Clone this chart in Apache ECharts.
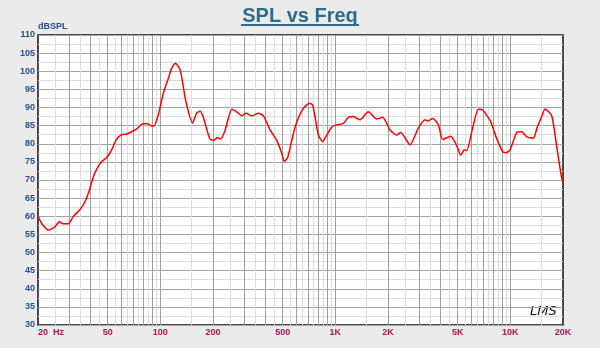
<!DOCTYPE html>
<html><head><meta charset="utf-8">
<script src="https://cdn.jsdelivr.net/npm/echarts@6/dist/echarts.min.js"></script>
<style>html,body{margin:0;padding:0;background:#ebebeb}#c{width:600px;height:348px}</style>
</head><body><div id="c"></div>
<script>
// Frequency (Hz) and SPL (dB)
const freqs = [20, 21, 22.9, 25, 26.5, 27.7, 29.8, 31.8, 34.8, 37.1, 39.3, 41.4, 43.3, 46.2, 49.4, 52.7, 55.8, 59.4, 64.3, 68.6, 73.3, 78.3, 83.6, 89.3, 92, 97.4, 104, 111, 116, 122, 130, 140, 153, 161, 169, 176, 192, 203, 212, 221, 234, 256, 273, 292, 309, 333, 363, 388, 424, 462, 494, 511, 535, 588, 650, 710, 743, 800, 847, 893, 954, 1019, 1111, 1186, 1267, 1384, 1543, 1724, 1865, 2053, 2243, 2365, 2672, 2980, 3255, 3373, 3603, 3878, 4108, 4563, 4938, 5205, 5458, 5634, 6146, 6563, 6954, 7725, 8282, 9046, 9448, 9961, 10877, 11614, 12409, 13537, 14268, 14974, 15787, 17240, 18408, 19661, 20000];
const spl = [60, 58.0, 56.2, 57.1, 58.5, 57.9, 57.9, 59.9, 61.9, 64.0, 67.2, 70.8, 73.0, 75.1, 76.2, 78.3, 81.0, 82.4, 82.7, 83.3, 84.1, 85.4, 85.6, 84.9, 84.9, 88.0, 93.9, 98.0, 100.8, 102.2, 100.3, 91.6, 85.7, 88.4, 89.0, 87.3, 81.3, 81.0, 81.7, 81.3, 83.6, 89.5, 88.8, 87.7, 88.4, 87.7, 88.4, 87.7, 83.8, 81.0, 77.4, 75.1, 76.3, 84.5, 89.5, 91.2, 90.6, 82.4, 80.6, 82.4, 84.6, 85.2, 85.6, 87.3, 87.5, 86.6, 88.8, 86.8, 87.3, 83.8, 82.4, 83.1, 79.7, 84.3, 86.6, 86.3, 87.0, 85.2, 81.2, 82.1, 79.5, 76.9, 78.3, 78.1, 85.2, 89.5, 89.3, 86.1, 81.9, 77.8, 77.5, 78.3, 83.1, 83.3, 81.9, 81.5, 84.7, 87.0, 89.6, 87.7, 79.2, 70.5, 69.5];

const xTickFreqs = [20, 50, 100, 200, 500, 1000, 2000, 5000, 10000, 20000];
const xTickLabels = ['20  Hz', '50', '100', '200', '500', '1K', '2K', '5K', '10K', '20K'];
const gridMajorFreqs = [30, 40, 50, 60, 70, 80, 90, 100, 200, 300, 400, 500, 600, 700, 800, 900, 1000, 2000, 3000, 4000, 5000, 6000, 7000, 8000, 9000, 10000];
const gridMinorFreqs = [25, 35, 45, 55, 65, 75, 85, 95, 150, 250, 350, 450, 550, 650, 750, 850, 950, 1500, 2500, 3500, 4500, 5500, 6500, 7500, 8500, 9500, 15000];
const yMin = 30, yMax = 110, yStep = 5;

const chart = echarts.init(document.getElementById('c'), null, {renderer: 'canvas'});
const lblFont = {fontFamily: 'Arial, "Liberation Sans", sans-serif', fontSize: 9, fontWeight: 'bold'};
const option = {
  backgroundColor: '#ebebeb',
  animation: false,
  title: {
    text: 'SPL vs Freq', left: 'center', top: 1,
    textStyle: {fontSize: 20, fontWeight: 'bold', color: '#2f6b8b', fontFamily: 'Arial, "Liberation Sans", sans-serif'}
  },
  graphic: [
    {type: 'rect', left: 241, top: 24, shape: {width: 118, height: 2}, style: {fill: '#2f6b8b'}},
    {type: 'text', left: 530, top: 305, style: {text: 'LMS', fill: '#111', font: 'italic 13px "DejaVu Sans", sans-serif'}}
  ],
  grid: {left: 38, right: 37, top: 35, bottom: 23, show: true, backgroundColor: '#ffffff', borderColor: '#111', borderWidth: 1.5},
  xAxis: {
    type: 'log', logBase: 10, min: 20, max: 20000,
    axisLine: {show: false}, axisTick: {show: false}, axisLabel: {show: false}, splitLine: {show: false}
  },
  yAxis: {
    type: 'value', min: yMin, max: yMax, interval: yStep,
    name: 'dBSPL', nameLocation: 'end', nameGap: 3,
    nameTextStyle: Object.assign({align: 'left', color: '#2b4d8f', verticalAlign: 'bottom'}, lblFont),
    axisLabel: Object.assign({color: '#2b4d8f', margin: 3}, lblFont),
    axisLine: {show: false}, axisTick: {show: false},
    splitLine: {lineStyle: {color: '#a4a4a4', width: 1}},
    minorTick: {show: false, splitNumber: 2},
    minorSplitLine: {show: true, lineStyle: {color: '#dcdcdc', width: 1}}
  },
  series: [
    {type: 'line', data: [], silent: true,
      markLine: {silent: true, symbol: ['none', 'none'], label: {show: false}, animation: false,
        lineStyle: {color: '#dcdcdc', type: 'solid', width: 1},
        data: gridMinorFreqs.map(f => ({xAxis: f}))}},
    {type: 'line', data: [], silent: true,
      markLine: {silent: true, symbol: ['none', 'none'], label: {show: false}, animation: false,
        lineStyle: {color: '#a0a0a0', type: 'solid', width: 1},
        data: gridMajorFreqs.map(f => ({xAxis: f}))}},
    {type: 'line', data: [], silent: true,
      markLine: {silent: true, symbol: ['none', 'none'], animation: false,
        lineStyle: {color: 'rgba(0,0,0,0)', width: 1, type: 'solid'},
        label: Object.assign({show: true, position: 'start', distance: 3, color: '#b0174a'}, lblFont),
        data: xTickFreqs.map((f, i) => ({xAxis: f, label: i === 0 ? {formatter: xTickLabels[i], align: 'left'} : {formatter: xTickLabels[i]}}))}},
    {type: 'line', z: 5, data: freqs.map((f, i) => [f, spl[i]]), showSymbol: false, smooth: 0.2,
      lineStyle: {color: '#ff0000', width: 1.5}, itemStyle: {color: '#ff0000'}}
  ]
};
chart.setOption(option);
</script>
</body></html>
